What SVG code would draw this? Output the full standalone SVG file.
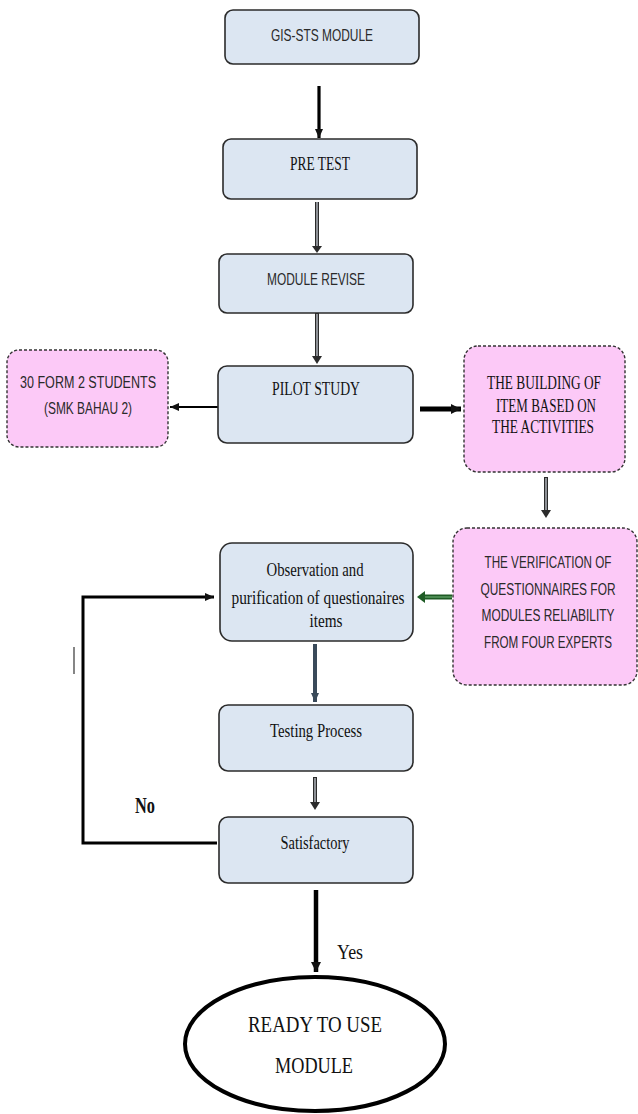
<svg xmlns="http://www.w3.org/2000/svg" width="638" height="1114" viewBox="0 0 638 1114">
<style>
.box{fill:#dce6f2;stroke:#2b2b2b;stroke-width:1.6}
.pink{fill:#fcc9f7;stroke:#333;stroke-width:1.4;stroke-dasharray:3 2}
.sans{font-family:"Liberation Sans","DejaVu Sans",sans-serif;font-size:11.8px;fill:#2a2a2a;text-anchor:middle}
.serif{font-family:"Liberation Serif","Times New Roman",serif;font-size:14px;fill:#111;text-anchor:middle}
.s13{font-size:13.5px}
.s15{font-size:14.8px}
.big{font-size:18.5px}
.no{font-size:16.4px;font-weight:bold}
.yes{font-size:16.7px}
.dbl-o{fill:none;stroke:#2b2b2b;stroke-width:4}
.dbl-i{fill:none;stroke:#b8bcc4;stroke-width:1.4}
.blk{fill:none;stroke:#000}
</style>
<defs>
<marker id="ah" markerWidth="12" markerHeight="12" refX="10" refY="6" orient="auto" markerUnits="userSpaceOnUse"><path d="M0,1 L10,6 L0,11 Z" fill="#111"/></marker>
<marker id="ahs" markerWidth="10" markerHeight="10" refX="9" refY="5" orient="auto" markerUnits="userSpaceOnUse"><path d="M0,1 L9,5 L0,9 Z" fill="#111"/></marker>
<marker id="ahb" markerWidth="10" markerHeight="10" refX="9" refY="5" orient="auto" markerUnits="userSpaceOnUse"><path d="M0,1 L9,5 L0,9 Z" fill="#3a4a5a"/></marker>
</defs>

<g id="connectors">
  <line class="blk" x1="319" y1="86" x2="319" y2="138" stroke-width="3.2" marker-end="url(#ahs)"/>
  <line class="dbl-o" x1="317" y1="202" x2="317" y2="248"/>
  <line class="dbl-i" x1="317" y1="202" x2="317" y2="247"/>
  <path d="M312,246 L322,246 L317,253 Z" fill="#2b2b2b"/>
  <line class="dbl-o" x1="317" y1="313" x2="317" y2="358"/>
  <line class="dbl-i" x1="317" y1="314" x2="317" y2="357"/>
  <path d="M312,356 L322,356 L317,364 Z" fill="#2b2b2b"/>
  <line class="blk" x1="218" y1="407" x2="170" y2="407" stroke-width="2" marker-end="url(#ahs)"/>
  <line class="blk" x1="420" y1="409" x2="461" y2="409" stroke-width="5" marker-end="url(#ah)"/>
  <line class="dbl-o" x1="546" y1="477" x2="546" y2="512"/>
  <line class="dbl-i" x1="546" y1="478" x2="546" y2="511"/>
  <path d="M541,510 L551,510 L546,518 Z" fill="#2b2b2b"/>
  <line x1="452" y1="597" x2="424" y2="597" stroke="#1e5b25" stroke-width="5"/>
  <line x1="452" y1="597" x2="424" y2="597" stroke="#5a9a60" stroke-width="1.5"/>
  <path d="M425,591 L425,603 L417,597 Z" fill="#1e5b25"/>
  <line x1="315" y1="644" x2="315" y2="702" stroke="#3a4a5a" stroke-width="4" marker-end="url(#ahb)"/>
  <line class="dbl-o" x1="315" y1="777" x2="315" y2="803"/>
  <line class="dbl-i" x1="315" y1="778" x2="315" y2="802"/>
  <path d="M310,802 L320,802 L315,810 Z" fill="#2b2b2b"/>
  <line class="blk" x1="316" y1="890" x2="316" y2="972" stroke-width="4.5" marker-end="url(#ah)"/>
  <path class="blk" d="M217,843 L83,843 L83,597 L214,597" stroke-width="3" marker-end="url(#ahs)"/>
  <line x1="74" y1="647" x2="74" y2="674" stroke="#444" stroke-width="1.3"/>
</g>

<g id="gis-sts-module">
  <rect class="box" x="225" y="10" width="194" height="54" rx="8"/>
  <text class="sans" transform="translate(322,41) scale(1,1.4)" textLength="102" lengthAdjust="spacingAndGlyphs">GIS-STS MODULE</text>
</g>
<g id="pre-test">
  <rect class="box" x="223" y="139" width="194" height="60" rx="8"/>
  <text class="serif" transform="translate(320,170) scale(1,1.4)" textLength="60" lengthAdjust="spacingAndGlyphs">PRE TEST</text>
</g>
<g id="module-revise">
  <rect class="box" x="219" y="254" width="194" height="59" rx="8"/>
  <text class="sans" transform="translate(316,285) scale(1,1.4)" textLength="98" lengthAdjust="spacingAndGlyphs">MODULE REVISE</text>
</g>
<g id="pilot-study">
  <rect class="box" x="218" y="366" width="195" height="77" rx="9"/>
  <text class="serif" transform="translate(316,395) scale(1,1.35)" textLength="88" lengthAdjust="spacingAndGlyphs">PILOT STUDY</text>
</g>
<g id="students">
  <rect class="pink" x="7" y="350" width="161" height="97" rx="12"/>
  <text class="sans" transform="translate(88,388) scale(1,1.45)" textLength="136" lengthAdjust="spacingAndGlyphs">30 FORM 2 STUDENTS</text>
  <text class="sans" transform="translate(88,414) scale(1,1.45)" textLength="88" lengthAdjust="spacingAndGlyphs">(SMK BAHAU 2)</text>
</g>
<g id="building-item">
  <rect class="pink" x="464" y="346" width="161" height="126" rx="14"/>
  <text class="serif s13" transform="translate(544,389) scale(1,1.4)" textLength="114" lengthAdjust="spacingAndGlyphs">THE BUILDING OF</text>
  <text class="serif s13" transform="translate(546,412) scale(1,1.4)" textLength="100" lengthAdjust="spacingAndGlyphs">ITEM BASED ON</text>
  <text class="serif s13" transform="translate(543,433) scale(1,1.4)" textLength="102" lengthAdjust="spacingAndGlyphs">THE ACTIVITIES</text>
</g>
<g id="verification">
  <rect class="pink" x="453" y="528" width="184" height="157" rx="14"/>
  <text class="sans" transform="translate(548,568) scale(1,1.45)" textLength="127" lengthAdjust="spacingAndGlyphs">THE VERIFICATION OF</text>
  <text class="sans" transform="translate(548,595) scale(1,1.45)" textLength="135" lengthAdjust="spacingAndGlyphs">QUESTIONNAIRES FOR</text>
  <text class="sans" transform="translate(548,621) scale(1,1.45)" textLength="133" lengthAdjust="spacingAndGlyphs">MODULES RELIABILITY</text>
  <text class="sans" transform="translate(548,648) scale(1,1.45)" textLength="128" lengthAdjust="spacingAndGlyphs">FROM FOUR EXPERTS</text>
</g>
<g id="observation">
  <rect class="box" x="220" y="543" width="193" height="98" rx="12"/>
  <text class="serif s15" transform="translate(315,576) scale(1,1.25)" textLength="97" lengthAdjust="spacingAndGlyphs">Observation and</text>
  <text class="serif s15" transform="translate(318,604) scale(1,1.25)" textLength="173" lengthAdjust="spacingAndGlyphs">purification of questionaires</text>
  <text class="serif s15" transform="translate(326,627) scale(1,1.25)" textLength="33" lengthAdjust="spacingAndGlyphs">items</text>
</g>
<g id="testing-process">
  <rect class="box" x="219" y="705" width="194" height="66" rx="9"/>
  <text class="serif s15" transform="translate(316,737) scale(1,1.25)" textLength="92" lengthAdjust="spacingAndGlyphs">Testing Process</text>
</g>
<g id="satisfactory">
  <rect class="box" x="219" y="817" width="194" height="66" rx="9"/>
  <text class="serif s15" transform="translate(315,849) scale(1,1.25)" textLength="69" lengthAdjust="spacingAndGlyphs">Satisfactory</text>
</g>
<g id="ready-module">
  <ellipse cx="315" cy="1044" rx="130" ry="67" fill="#fff" stroke="#000" stroke-width="4"/>
  <text class="serif big" transform="translate(315,1032) scale(1,1.2)" textLength="134" lengthAdjust="spacingAndGlyphs">READY TO USE</text>
  <text class="serif big" transform="translate(314,1073) scale(1,1.2)" textLength="78" lengthAdjust="spacingAndGlyphs">MODULE</text>
</g>
<g id="labels">
  <text class="serif no" transform="translate(145,813) scale(1,1.4)" textLength="20" lengthAdjust="spacingAndGlyphs">No</text>
  <text class="serif yes" transform="translate(350,959) scale(1,1.3)" textLength="26" lengthAdjust="spacingAndGlyphs">Yes</text>
</g>
</svg>
